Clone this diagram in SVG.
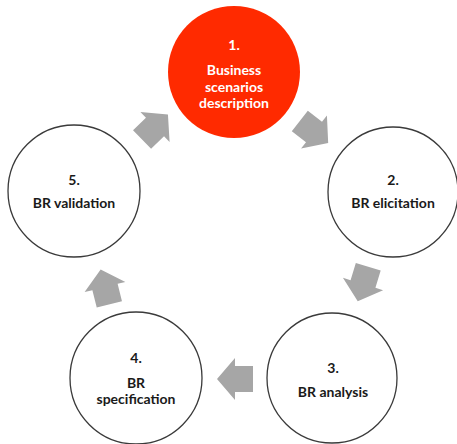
<svg xmlns="http://www.w3.org/2000/svg" width="457" height="444" viewBox="0 0 457 444">
  <style>
    .node { fill: #ffffff; stroke: #3a3a3a; stroke-width: 1.3; }
    .node.active { fill: #ff2a00; stroke: none; }
    .label { font-family: Lato, "Open Sans", "Liberation Sans", sans-serif; font-weight: bold; font-size: 14px; fill: #1a1a1a; text-anchor: middle; }
    .label.light { fill: #ffffff; }
    .flow { fill: #a6a6a6; }
  </style>
  <defs>
    <!-- block arrow pointing along +x, centred on its own origin -->
    <polygon id="block-arrow" points="-18,-13 0,-13 0,-21 18,0 0,21 0,13 -18,13"/>
  </defs>

  <g id="connectors" class="flow">
    <use href="#block-arrow" transform="translate(314 132) rotate(38)"/>
    <use href="#block-arrow" transform="translate(363 284) rotate(107)"/>
    <use href="#block-arrow" transform="translate(235 379) rotate(180)"/>
    <use href="#block-arrow" transform="translate(105 287) rotate(256)"/>
    <use href="#block-arrow" transform="translate(155 127) rotate(-44)"/>
  </g>

  <g id="node-1">
    <circle class="node active" cx="234" cy="72" r="66"/>
    <text class="label light" x="234" y="50">1.</text>
    <text class="label light" x="234" y="75">Business</text>
    <text class="label light" x="234" y="92">scenarios</text>
    <text class="label light" x="234" y="108">description</text>
  </g>

  <g id="node-2">
    <circle class="node" cx="393" cy="192" r="65"/>
    <text class="label" x="393" y="185">2.</text>
    <text class="label" x="393" y="208">BR elicitation</text>
  </g>

  <g id="node-3">
    <circle class="node" cx="332" cy="378" r="65"/>
    <text class="label" x="333" y="373">3.</text>
    <text class="label" x="333" y="397">BR analysis</text>
  </g>

  <g id="node-4">
    <circle class="node" cx="136" cy="378" r="66"/>
    <text class="label" x="136" y="363">4.</text>
    <text class="label" x="136" y="388">BR</text>
    <text class="label" x="136" y="404">specification</text>
  </g>

  <g id="node-5">
    <circle class="node" cx="74" cy="191" r="66"/>
    <text class="label" x="74" y="185">5.</text>
    <text class="label" x="74" y="208">BR validation</text>
  </g>
</svg>
